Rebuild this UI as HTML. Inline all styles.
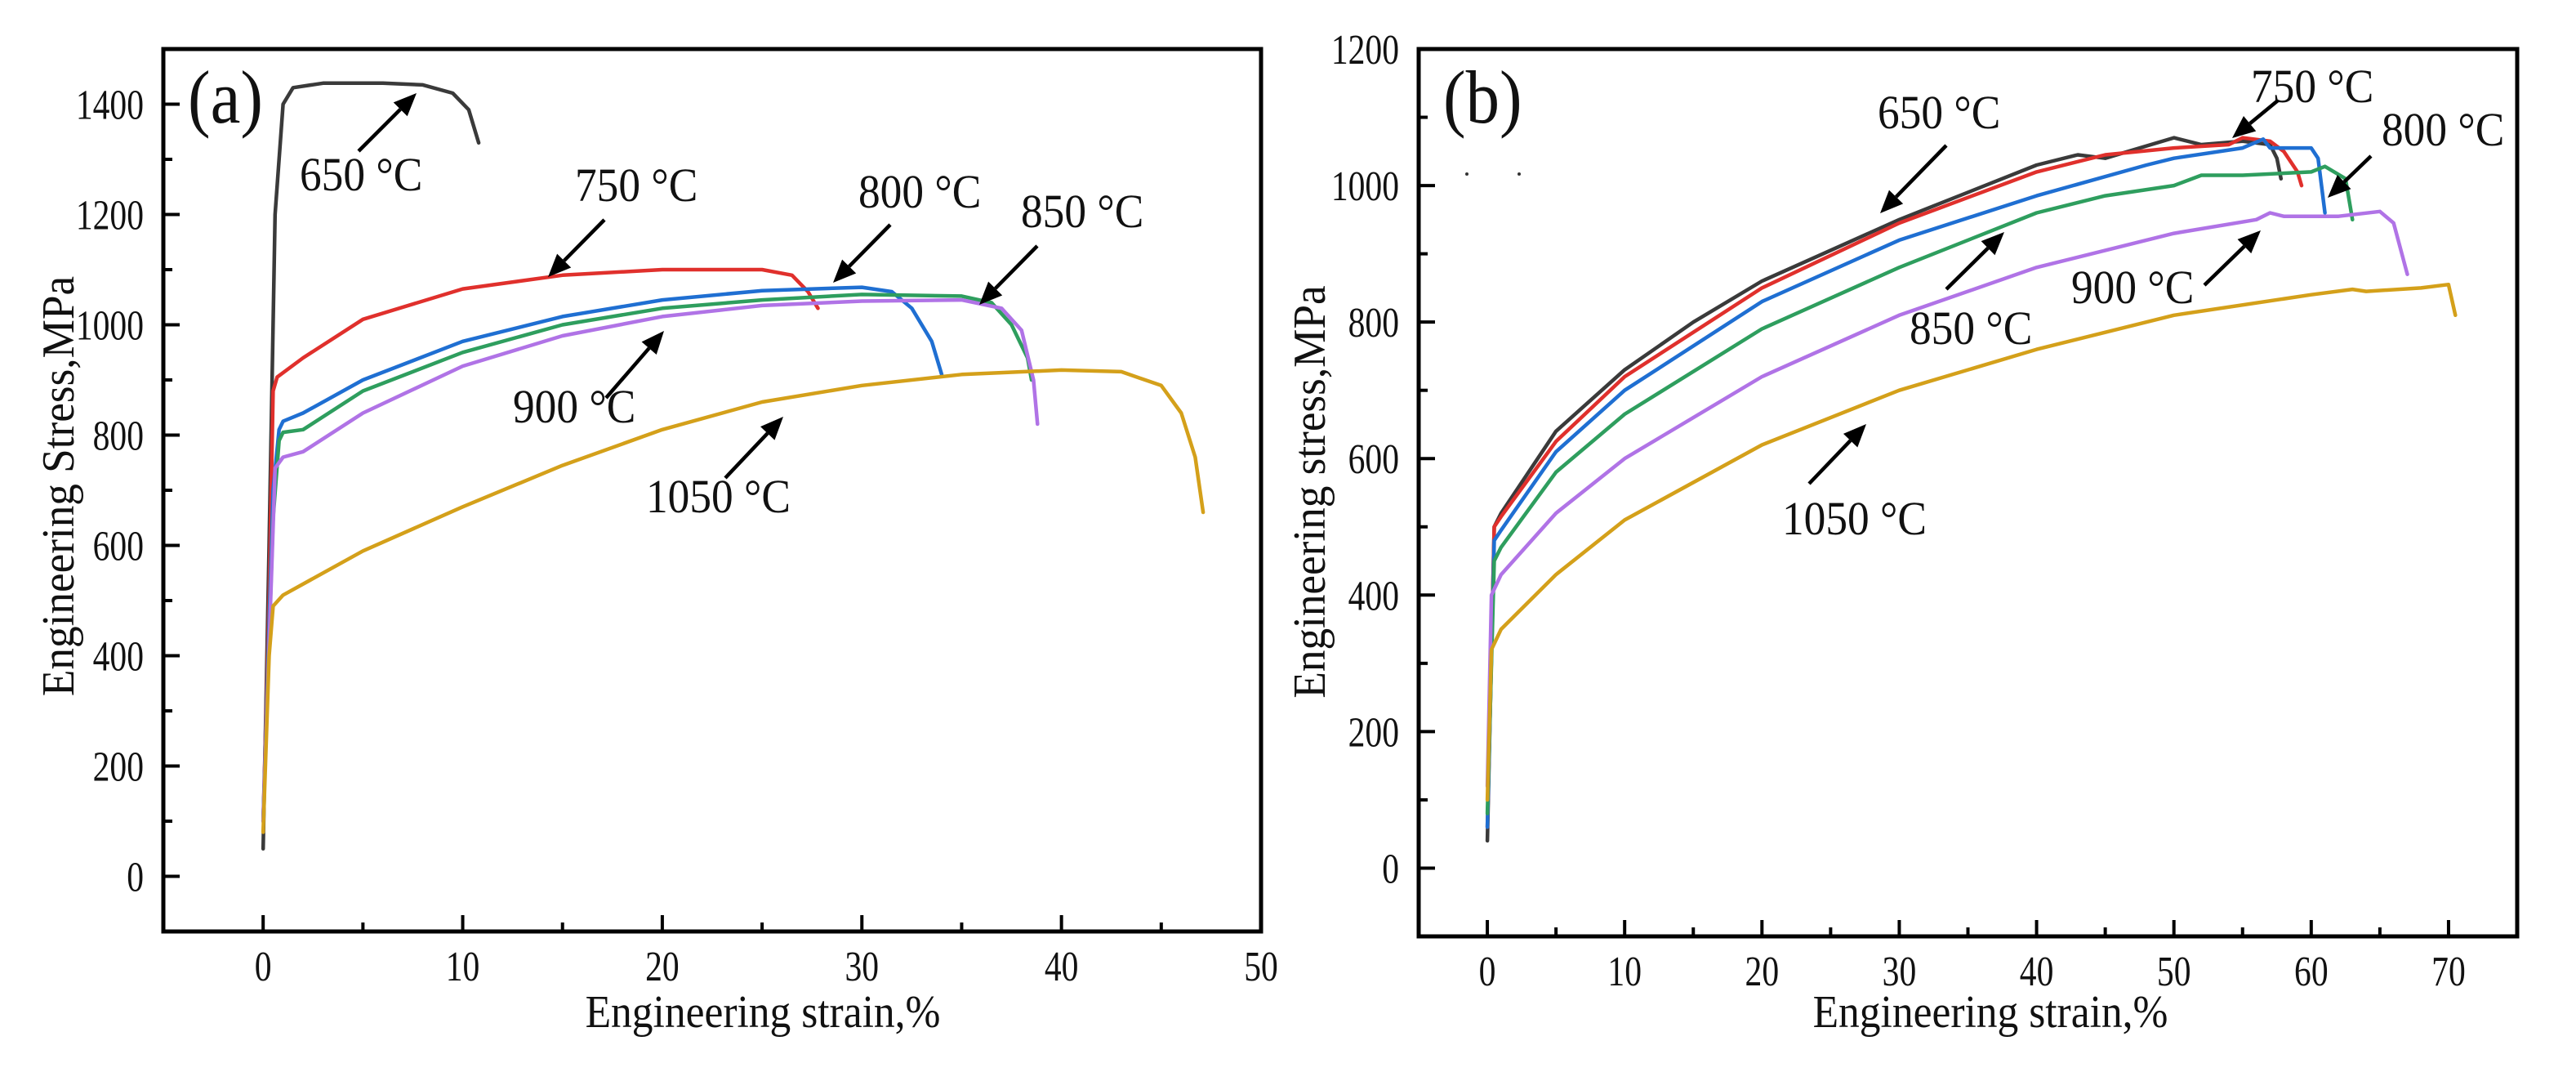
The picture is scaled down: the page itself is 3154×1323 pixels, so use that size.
<!DOCTYPE html>
<html><head><meta charset="utf-8"><style>
html,body{margin:0;padding:0;background:#fff;}
svg{display:block;font-family:"Liberation Serif",serif;}
</style></head><body>
<svg id="fig" width="3154" height="1323" viewBox="0 0 3154 1323" xmlns="http://www.w3.org/2000/svg">
<rect x="0" y="0" width="3154" height="1323" fill="#fff"/>
</svg>
<script>
// ---------- Panel (a) data ----------
const aSeriesNames = ["650 °C","750 °C","800 °C","850 °C","900 °C","1050 °C"];
const aStrain650 = [0,0.3,0.6,1,1.5,3,6,8,9.5,10.3,10.8];
const aStress650 = [50,600,1200,1400,1430,1438,1438,1435,1420,1390,1330];
const aStrain750 = [0,0.3,0.5,0.7,2,5,10,15,20,25,26.5,27.3,27.8];
const aStress750 = [100,500,880,905,940,1010,1065,1090,1100,1100,1090,1060,1030];
const aStrain800 = [0,0.5,0.8,1,2,5,10,15,20,25,30,31.5,32.5,33.5,34];
const aStress800 = [100,700,810,825,840,900,970,1015,1045,1062,1068,1060,1030,970,910];
const aStrain850 = [0,0.5,0.8,1,2,5,10,15,20,25,30,35,36.5,37.5,38.3,38.5];
const aStress850 = [100,650,790,805,810,880,950,1000,1030,1045,1055,1052,1040,1000,940,900];
const aStrain900 = [0,0.6,1,2,5,10,15,20,25,30,35,37,38,38.6,38.8];
const aStress900 = [100,740,760,770,840,925,980,1015,1035,1043,1045,1030,990,900,820];
const aStrain1050 = [0,0.3,0.5,1,5,10,15,20,25,30,35,40,43,45,46,46.7,47.1];
const aStress1050 = [80,400,490,510,590,670,745,810,860,890,910,918,915,890,840,760,660];
const aXTicks = [0,10,20,30,40,50];
const aYTicks = [0,200,400,600,800,1000,1200,1400];

// ---------- Panel (b) data ----------
const bStrain650 = [0,0.5,1,5,10,15,20,30,40,43,45,50,52,55,57,57.5,57.8];
const bStress650 = [40,500,520,640,730,800,860,950,1030,1045,1040,1070,1060,1065,1060,1040,1010];
const bStrain750 = [0,0.5,1,5,10,20,30,40,45,50,54,55,57,58,59,59.3];
const bStress750 = [60,500,515,625,720,850,945,1020,1045,1055,1060,1070,1065,1050,1020,1000];
const bStrain800 = [0,0.5,1,5,10,20,30,40,48,50,55,56.5,57,60,60.5,61];
const bStress800 = [60,480,495,610,700,830,920,985,1030,1040,1055,1068,1055,1055,1040,960];
const bStrain850 = [0,0.5,1,5,10,20,30,40,45,50,52,55,60,61,62.5,63];
const bStress850 = [80,450,470,580,665,790,880,960,985,1000,1015,1015,1020,1028,1010,950];
const bStrain900 = [0,0.3,1,5,10,20,30,40,50,56,57,58,62,65,66,67];
const bStress900 = [120,400,430,520,600,720,810,880,930,950,960,955,955,962,945,870];
const bStrain1050 = [0,0.3,1,5,10,20,30,40,50,60,63,64,68,70,70.5];
const bStress1050 = [100,320,350,430,510,620,700,760,810,840,848,845,850,855,810];
const bXTicks = [0,10,20,30,40,50,60,70];
const bYTicks = [0,200,400,600,800,1000,1200];

const colors = ["#3a3a3a","#e0302c","#1f6fd2","#2e9e5e","#b073e6","#d4a01a"];
const NS = "http://www.w3.org/2000/svg";
const svg = document.getElementById("fig");

function mk(tag, attrs, parent){
  const e = document.createElementNS(NS, tag);
  for (const k in attrs) e.setAttribute(k, attrs[k]);
  (parent||svg).appendChild(e);
  return e;
}
function txt(x,y,s,size,anchor,parent,sx){
  const t = mk("text",{x:0,y:0,"font-size":size,"text-anchor":anchor||"start",fill:"#111",
    transform:`translate(${x},${y}) scale(${sx||1},1)`},parent);
  t.textContent = s;
  return t;
}

function panel(cfg){
  const g = mk("g",{});
  
  
  const X = v => cfg.L + (v - cfg.xmin)/(cfg.xmax-cfg.xmin)*(cfg.R-cfg.L);
  const Y = v => cfg.B - (v - cfg.ymin)/(cfg.ymax-cfg.ymin)*(cfg.B-cfg.T);
  cfg.series.forEach((s,i)=>{
    const d = s.x.map((v,j)=>(j?"L":"M")+X(v).toFixed(1)+","+Y(s.y[j]).toFixed(1)).join(" ");
    const p = mk("path",{d:d,fill:"none",stroke:colors[i],"stroke-width":4.5,"stroke-linejoin":"round","stroke-linecap":"round"},g);
    
    
  });
  const fr = mk("rect",{x:cfg.L,y:cfg.T,width:cfg.R-cfg.L,height:cfg.B-cfg.T,fill:"none",stroke:"#000","stroke-width":5},g);
  
  
  const xstep = cfg.xTicks[1]-cfg.xTicks[0];
  for (let v=cfg.xTicks[0]; v<=cfg.xmax+0.01; v+=xstep/2){
    const major = Math.abs((v/xstep)-Math.round(v/xstep))<0.01;
    mk("line",{x1:X(v),x2:X(v),y1:cfg.B,y2:cfg.B-(major?20:11),stroke:"#000","stroke-width":4},g);
  }
  cfg.xTicks.forEach(v=>{
    const t = txt(X(v),cfg.B+60,String(v),52,"middle",g,0.8);
    
    
  });
  const ystep = cfg.yTicks[1]-cfg.yTicks[0];
  for (let v=cfg.yTicks[0]-ystep/2; v<=cfg.ymax+0.01; v+=ystep/2){
    if (v<cfg.ymin) continue;
    const major = Math.abs((v/ystep)-Math.round(v/ystep))<0.01;
    mk("line",{x1:cfg.L,x2:cfg.L+(major?20:11),y1:Y(v),y2:Y(v),stroke:"#000","stroke-width":4},g);
  }
  cfg.yTicks.forEach(v=>{
    const t = txt(cfg.L-24,Y(v)+18,String(v),52,"end",g,0.8);
    
    
  });
  const xt = txt(cfg.xTitleX,1257,"Engineering strain,%",56,"middle",g,0.92);
  
  
  const yt = mk("text",{x:0,y:0,"font-size":56,"text-anchor":"middle",fill:"#111",
    transform:`translate(${cfg.yTitleX},${cfg.yTitleY}) rotate(-90) scale(0.95,1)`},g);
  yt.textContent = cfg.yTitle;
  
  
  const pl = txt(cfg.L+30,150,cfg.letter,92,"start",g,0.9);
  
  
  cfg.ann.forEach(a=>{
    const t = txt(a.lx,a.ly,a.s,58,"start",g,0.92);
    
    
    const [x1,y1,x2,y2] = a.ar;
    const ang = Math.atan2(y2-y1,x2-x1), h=28, w=12;
    const bx = x2 - h*Math.cos(ang), by = y2 - h*Math.sin(ang);
    const ln = mk("line",{x1:x1,y1:y1,x2:bx,y2:by,stroke:"#000","stroke-width":4.5},g);
    
    
    mk("polygon",{points:`${x2},${y2} ${bx+w*Math.sin(ang)},${by-w*Math.cos(ang)} ${bx-w*Math.sin(ang)},${by+w*Math.cos(ang)}`,fill:"#000"},g);
  });
}

panel({name:"panel-a",letter:"(a)",L:200,R:1544,T:60,B:1140,xmin:-5,xmax:50,ymin:-100,ymax:1500,
  xTicks:aXTicks,yTicks:aYTicks,xTitleX:934,yTitleX:90,yTitleY:595,yTitle:"Engineering Stress,MPa",
  series:[{n:aSeriesNames[0],x:aStrain650,y:aStress650},{n:aSeriesNames[1],x:aStrain750,y:aStress750},
    {n:aSeriesNames[2],x:aStrain800,y:aStress800},{n:aSeriesNames[3],x:aStrain850,y:aStress850},
    {n:aSeriesNames[4],x:aStrain900,y:aStress900},{n:aSeriesNames[5],x:aStrain1050,y:aStress1050}],
  ann:[{s:"650 °C",lx:367,ly:233,ar:[439,185,510,114]},
       {s:"750 °C",lx:704,ly:246,ar:[740,269,671,339]},
       {s:"800 °C",lx:1051,ly:254,ar:[1090,275,1020,346]},
       {s:"850 °C",lx:1250,ly:278,ar:[1270,301,1199,373]},
       {s:"900 °C",lx:628,ly:517,ar:[742,487,813,405]},
       {s:"1050 °C",lx:791,ly:627,ar:[888,585,959,510]}]});

panel({name:"panel-b",letter:"(b)",L:1737,R:3082,T:60,B:1146,xmin:-5,xmax:75,ymin:-100,ymax:1200,
  xTicks:bXTicks,yTicks:bYTicks,xTitleX:2437,yTitleX:1622,yTitleY:602,yTitle:"Engineering stress,MPa",
  series:[{n:aSeriesNames[0],x:bStrain650,y:bStress650},{n:aSeriesNames[1],x:bStrain750,y:bStress750},
    {n:aSeriesNames[2],x:bStrain800,y:bStress800},{n:aSeriesNames[3],x:bStrain850,y:bStress850},
    {n:aSeriesNames[4],x:bStrain900,y:bStress900},{n:aSeriesNames[5],x:bStrain1050,y:bStress1050}],
  ann:[{s:"650 °C",lx:2299,ly:157,ar:[2383,178,2302,261]},
       {s:"750 °C",lx:2756,ly:125,ar:[2789,123,2733,169]},
       {s:"800 °C",lx:2916,ly:178,ar:[2903,191,2850,242]},
       {s:"850 °C",lx:2338,ly:421,ar:[2383,354,2454,284]},
       {s:"900 °C",lx:2536,ly:371,ar:[2699,349,2768,282]},
       {s:"1050 °C",lx:2182,ly:654,ar:[2215,592,2285,519]}]});

mk("circle",{cx:1796,cy:213,r:2,fill:"#333"});
mk("circle",{cx:1860,cy:213,r:2,fill:"#333"});
</script>
</body></html>
